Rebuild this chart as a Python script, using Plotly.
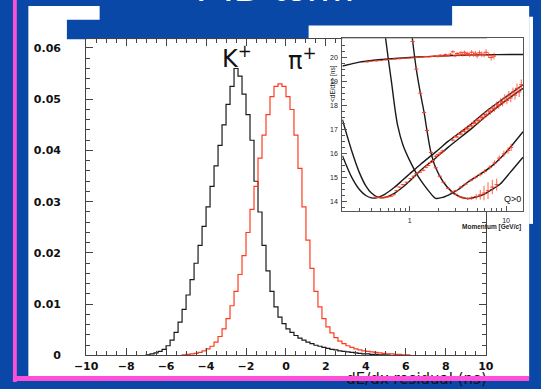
import math
import numpy as np
import plotly.graph_objects as go

W, H = 541, 389

BLUE = "#0a48a8"
PINK = "#ff4fd8"
RED = "#ff3b1f"
BLACK = "#1a1a1a"

# ---------------- main histograms: dE/dx residual (ns), 0.2 ns bins ----------------
bin_centers = np.round(np.arange(-9.9, 10.0, 0.2), 1)

kaon_first_center = -6.9
kaon_frac = [
    0.0001, 0.0003, 0.0005, 0.0008, 0.0012, 0.0019, 0.0030, 0.0045, 0.0065,
    0.0090, 0.0118, 0.0148, 0.0180, 0.0215, 0.0252, 0.0290, 0.0330, 0.0370, 0.0410,
    0.0450, 0.0490, 0.0525, 0.0560, 0.0545, 0.0510, 0.0470, 0.0420, 0.0340, 0.0280,
    0.0215, 0.0165, 0.0125, 0.0095, 0.0075, 0.0062, 0.0052, 0.0045, 0.0039, 0.0034,
    0.0030, 0.0026, 0.0023, 0.0020, 0.0018, 0.0016, 0.0014, 0.0012, 0.0011, 0.0009,
    0.0008, 0.0007, 0.0006, 0.0005, 0.0004, 0.0003, 0.0003, 0.0002, 0.0002, 0.0001,
    0.0001, 0.0001,
]

pion_first_center = -5.1
pion_frac = [
    0.0001, 0.0002, 0.0003, 0.0004, 0.0006, 0.0009, 0.0013, 0.0018, 0.0026, 0.0037,
    0.0052, 0.0072, 0.0097, 0.0125, 0.0158, 0.0195, 0.0240, 0.0285, 0.0330, 0.0385,
    0.0430, 0.0470, 0.0505, 0.0525, 0.0530, 0.0525, 0.0505, 0.0480, 0.0430, 0.0365,
    0.0290, 0.0225, 0.0170, 0.0125, 0.0095, 0.0072, 0.0056, 0.0044, 0.0035, 0.0028,
    0.0023, 0.0019, 0.0016, 0.0013, 0.0011, 0.0009, 0.0008, 0.0007, 0.0006, 0.0005,
    0.0004, 0.0003, 0.0003, 0.0002, 0.0002, 0.0001, 0.0001,
]

x_ticks_main = [-10, -8, -6, -4, -2, 0, 2, 4, 6, 8, 10]
y_ticks_main = [0, 0.01, 0.02, 0.03, 0.04, 0.05, 0.06]
y_tick_text_main = ["0", "0.01", "0.02", "0.03", "0.04", "0.05", "0.06"]

# ---------------- inset: <dE/dx> vs momentum, Q>0 ----------------
# expected-response curves (momentum GeV/c, <dE/dx> ns)
e_curve_p = [0.2, 0.25, 0.3, 0.4, 0.5, 0.7, 1.0, 1.5, 2.0, 3.0, 5.0, 8.0, 15.0]
e_curve_y = [19.63, 19.72, 19.79, 19.86, 19.9, 19.94, 19.98, 20.02, 20.04, 20.07, 20.09, 20.1, 20.11]

mu_curve_p = [0.2, 0.25, 0.3, 0.35, 0.4, 0.45, 0.55, 0.7, 0.85, 1.0, 1.3, 1.85, 2.5, 4.0, 6.0, 10.0, 15.0]
mu_curve_y = [15.9, 15.0, 14.5, 14.25, 14.15, 14.15, 14.3, 14.6, 14.9, 15.15, 15.55, 16.05, 16.5, 17.1, 17.7, 18.35, 18.85]

pi_curve_p = [0.2, 0.25, 0.3, 0.35, 0.4, 0.47, 0.55, 0.7, 0.85, 1.0, 1.3, 1.85, 2.5, 4.47, 6.0, 10.0, 15.0]
pi_curve_y = [17.4, 16.1, 15.2, 14.65, 14.35, 14.17, 14.17, 14.35, 14.6, 14.85, 15.3, 15.8, 16.25, 17.06, 17.5, 18.2, 18.7]

k_curve_p = [0.54, 0.6, 0.65, 0.7, 0.75, 0.85, 1.0, 1.2, 1.4, 1.6, 1.86, 2.2, 2.7, 3.2, 4.0, 5.0, 7.0, 10.0, 15.0]
k_curve_y = [21.3, 19.9, 18.9, 17.9, 17.15, 16.35, 15.7, 15.1, 14.7, 14.4, 14.13, 14.17, 14.33, 14.5, 14.8, 15.05, 15.45, 16.05, 16.9]

p_curve_p = [1.03, 1.07, 1.17, 1.29, 1.41, 1.51, 1.66, 1.86, 2.24, 2.75, 3.3, 3.98, 5.0, 5.9, 7.0, 8.7, 11.0, 15.0]
p_curve_y = [21.3, 20.7, 19.5, 18.5, 17.7, 16.95, 16.04, 15.4, 14.8, 14.4, 14.2, 14.12, 14.2, 14.3, 14.48, 14.73, 15.2, 15.84]

# measured points (momentum, <dE/dx>, error)
e_pts_p = [0.36, 0.4, 0.45, 0.5, 0.56, 0.62, 0.7, 0.78, 0.87, 0.97, 1.08, 1.2, 1.33, 1.45, 1.58, 1.7,
           1.82, 1.95, 2.08, 2.2, 2.35, 2.5, 2.65, 2.8, 2.95, 3.1, 3.25, 3.4, 3.55, 3.7, 3.85, 4.0,
           4.2, 4.4, 4.6, 4.8, 5.0, 5.3, 5.6, 5.9, 6.2, 6.6, 7.0, 7.5]
e_pts_y = [19.8, 19.83, 19.84, 19.86, 19.88, 19.9, 19.92, 19.93, 19.95, 19.96, 19.97, 19.98, 20.0, 20.02,
           20.01, 20.03, 20.05, 20.02, 20.08, 20.04, 20.1, 20.06, 20.12, 20.22, 20.05, 20.15, 20.08, 20.18,
           20.1, 20.2, 20.12, 20.14, 20.08, 20.2, 20.1, 20.16, 20.05, 20.18, 20.12, 20.1, 20.2, 20.08,
           19.98, 20.04]
e_pts_err = [0.03, 0.02, 0.02, 0.02, 0.02, 0.02, 0.02, 0.02, 0.02, 0.02, 0.02, 0.02, 0.03, 0.03, 0.03, 0.03,
             0.03, 0.04, 0.04, 0.04, 0.05, 0.05, 0.05, 0.06, 0.06, 0.06, 0.06, 0.07, 0.07, 0.07, 0.08, 0.08,
             0.08, 0.09, 0.09, 0.1, 0.1, 0.1, 0.11, 0.11, 0.12, 0.12, 0.13, 0.14]

pi_pts_p = [0.44, 0.47, 0.5, 0.53, 0.57, 0.6, 0.64, 0.68, 0.73, 0.78, 0.85, 0.93, 1.02, 1.1, 1.17, 1.28,
            1.38, 1.47, 1.55, 1.65, 1.74, 1.86, 1.97, 2.09, 2.2,
            2.8, 2.95, 3.1, 3.25, 3.4, 3.55, 3.7, 3.85, 4.0, 4.2, 4.4, 4.6, 4.8, 5.0, 5.25, 5.5, 5.75,
            6.0, 6.3, 6.6, 6.9, 7.2, 7.6, 8.0, 8.4, 8.8, 9.2, 9.7, 10.2, 10.7, 11.2, 11.8, 12.4, 13.0,
            13.7, 14.4]
pi_pts_y = [14.18, 14.16, 14.17, 14.15, 14.18, 14.2, 14.22, 14.28, 14.45, 14.6, 14.7, 14.8, 14.95, 15.05,
            15.15, 15.22, 15.3, 15.42, 15.5, 15.62, 15.7, 15.88, 15.95, 16.02, 16.1,
            16.55, 16.7, 16.68, 16.82, 16.8, 16.93, 16.92, 17.04, 17.02, 17.15, 17.14, 17.28, 17.25,
            17.38, 17.36, 17.5, 17.48, 17.62, 17.6, 17.76, 17.72, 17.88, 17.85, 18.02, 17.98, 18.15,
            18.1, 18.3, 18.2, 18.42, 18.3, 18.55, 18.42, 18.7, 18.55, 18.85]
pi_pts_err = [0.02, 0.02, 0.02, 0.02, 0.02, 0.02, 0.02, 0.03, 0.03, 0.03, 0.03, 0.03, 0.03, 0.03, 0.03,
              0.03, 0.04, 0.04, 0.04, 0.04, 0.04, 0.05, 0.05, 0.05, 0.05,
              0.05, 0.05, 0.05, 0.05, 0.06, 0.06, 0.06, 0.06, 0.07, 0.07, 0.07, 0.08, 0.08, 0.08, 0.09,
              0.09, 0.1, 0.1, 0.1, 0.11, 0.11, 0.12, 0.12, 0.13, 0.13, 0.14, 0.15, 0.15, 0.16, 0.17,
              0.18, 0.18, 0.19, 0.2, 0.21, 0.22]

k_pts_p = [3.0, 3.4, 3.8, 4.3, 4.8, 5.4, 6.0, 6.8, 7.6, 8.5, 9.5, 10.5, 11.3]
k_pts_y = [14.45, 14.6, 14.72, 14.88, 15.0, 15.12, 15.25, 15.42, 15.6, 15.8, 15.98, 16.12, 16.25]
k_pts_err = [0.04, 0.05, 0.05, 0.06, 0.07, 0.08, 0.09, 0.1, 0.11, 0.12, 0.13, 0.14, 0.15]

p_pts_p = [1.07, 1.17, 1.29, 1.41, 1.51, 1.66, 1.86, 2.05, 2.24, 2.5, 2.75, 3.0, 3.3, 3.6, 3.98, 4.4,
           4.9, 5.4, 5.9, 6.5, 7.2, 8.0]
p_pts_y = [20.65, 19.5, 18.5, 17.7, 16.95, 16.04, 15.4, 15.05, 14.8, 14.55, 14.4, 14.3, 14.2, 14.15,
           14.12, 14.14, 14.2, 14.28, 14.35, 14.45, 14.6, 14.7]
p_pts_err = [0.05, 0.05, 0.05, 0.05, 0.05, 0.05, 0.04, 0.04, 0.04, 0.04, 0.04, 0.04, 0.05, 0.05,
             0.06, 0.08, 0.12, 0.2, 0.3, 0.35, 0.3, 0.25]


def full_hist(first_center, vals):
    out = np.zeros(len(bin_centers))
    i0 = int(round((first_center - bin_centers[0]) / 0.2))
    out[i0:i0 + len(vals)] = vals
    return out


def step_xy(values):
    # outline from the left edge to the right edge of the binning
    xs = np.concatenate([[-10.0], bin_centers, [10.0]])
    ys = np.concatenate([[values[0]], values, [values[-1]]])
    return xs, ys


def px(x):
    return x / W


def py(y):
    return 1 - y / H


fig = go.Figure()

# page-level axis caption on a full-page subplot measured in pixels
fig.add_trace(go.Scatter(x=[493], y=[380], mode="text", text=["dE/dx residual (ns)"],
                         textposition="bottom left",
                         textfont=dict(family="DejaVu Sans", size=15, color="#111"),
                         cliponaxis=False, xaxis="x", yaxis="y"))

kx, ky = step_xy(full_hist(kaon_first_center, kaon_frac))
pix, piy = step_xy(full_hist(pion_first_center, pion_frac))
fig.add_trace(go.Scatter(x=kx, y=ky, mode="lines", line=dict(shape="hvh", color=BLACK, width=1.2),
                         xaxis="x2", yaxis="y2"))
fig.add_trace(go.Scatter(x=pix, y=piy, mode="lines", line=dict(shape="hvh", color=RED, width=1.2),
                         xaxis="x2", yaxis="y2"))

# inset curves
for cp, cy in [(e_curve_p, e_curve_y), (mu_curve_p, mu_curve_y), (pi_curve_p, pi_curve_y),
               (k_curve_p, k_curve_y), (p_curve_p, p_curve_y)]:
    fig.add_trace(go.Scatter(x=cp, y=cy, mode="lines",
                             line=dict(color=BLACK, width=1.4, shape="spline", smoothing=0.8),
                             xaxis="x3", yaxis="y3"))

# inset measurements
for pp, yy, ee in [(e_pts_p, e_pts_y, e_pts_err), (pi_pts_p, pi_pts_y, pi_pts_err),
                   (k_pts_p, k_pts_y, k_pts_err), (p_pts_p, p_pts_y, p_pts_err)]:
    fig.add_trace(go.Scatter(x=pp, y=yy, mode="markers",
                             marker=dict(symbol="line-ew", size=3, color=RED,
                                         line=dict(color=RED, width=1)),
                             error_y=dict(type="data", array=ee, color=RED, thickness=0.8, width=0),
                             xaxis="x3", yaxis="y3"))

shapes = []


def rect(x0, y0, x1, y1, color, layer="below"):
    shapes.append(dict(type="rect", xref="paper", yref="paper", x0=px(x0), x1=px(x1),
                       y0=py(y1), y1=py(y0), fillcolor=color, line=dict(width=0), layer=layer))


rect(0, 0, 541, 389, BLUE)
rect(17, 6, 537, 384, "white")
rect(537, 17, 541, 228, "white")
rect(91, 0, 457, 26, BLUE)
rect(57, 20, 308, 40, BLUE)
rect(1, 0, 5, 389, PINK, layer="above")
rect(1, 383, 537, 388, PINK, layer="above")

tick_font = dict(family="DejaVu Sans", size=11, color="#111", weight="bold")
inset_font = dict(family="Liberation Sans", size=7, color="#222")

fig.update_layout(
    width=W, height=H, margin=dict(l=0, r=0, t=0, b=0),
    paper_bgcolor=BLUE, plot_bgcolor="white", showlegend=False,
    shapes=shapes,
    xaxis=dict(domain=[0, 1], range=[0, W], visible=False, anchor="y"),
    yaxis=dict(domain=[0, 1], range=[H, 0], visible=False, anchor="x"),
    xaxis2=dict(domain=[px(77), px(492)], range=[-10, 10], anchor="y2",
                showgrid=False, zeroline=False, showline=True, linecolor="#444", linewidth=1,
                mirror="ticks", ticks="inside", ticklen=7, tickcolor="#444",
                tickvals=x_ticks_main, tickfont=tick_font, ticklabelstandoff=0,
                minor=dict(ticks="inside", ticklen=4, dtick=0.5, tickcolor="#444")),
    yaxis2=dict(domain=[py(362), py(40)], range=[0, 0.0617], anchor="x2",
                showgrid=False, zeroline=False, showline=True, linecolor="#444", linewidth=1,
                mirror="ticks", ticks="inside", ticklen=7, tickcolor="#444",
                tickvals=y_ticks_main, ticktext=y_tick_text_main, tickfont=tick_font,
                ticklabelstandoff=22,
                minor=dict(ticks="inside", ticklen=4, dtick=0.002, tickcolor="#444")),
    xaxis3=dict(domain=[px(343), px(531)], type="log", range=[-0.7, 1.18], anchor="y3",
                showgrid=False, zeroline=False, showline=True, linecolor="#555", linewidth=1,
                mirror=True, ticks="inside", ticklen=5, tickcolor="#555",
                tickvals=[1, 10], ticktext=["1", "10"], tickfont=inset_font, ticklabelstandoff=2,
                minor=dict(ticks="inside", ticklen=3, tickcolor="#555",
                           tickvals=[0.2, 0.3, 0.4, 0.5, 0.6, 0.7, 0.8, 0.9, 2, 3, 4, 5, 6, 7, 8, 9])),
    yaxis3=dict(domain=[py(215), py(39)], range=[13.6, 20.78], anchor="x3",
                showgrid=False, zeroline=False, showline=True, linecolor="#555", linewidth=1,
                mirror=True, ticks="inside", ticklen=5, tickcolor="#555",
                tickvals=[14, 15, 16, 17, 18, 19, 20], tickfont=inset_font, ticklabelstandoff=2,
                minor=dict(ticks="inside", ticklen=3, dtick=0.25, tickcolor="#555")),
    annotations=[
        dict(x=px(273), y=py(-13), xref="paper", yref="paper", text="PID term",
             xanchor="center", yanchor="middle", showarrow=False,
             font=dict(family="Liberation Sans", size=40, color="white")),
        dict(x=-2.45, y=0.0583, xref="x2", yref="y2", text="K<sup>+</sup>", showarrow=False,
             font=dict(family="DejaVu Sans", size=24, color="#111")),
        dict(x=0.85, y=0.0578, xref="x2", yref="y2", text="π<sup>+</sup>", showarrow=False,
             font=dict(family="DejaVu Sans", size=24, color="#111")),
        dict(x=px(334), y=py(64), xref="paper", yref="paper", text="&lt;dE/dx&gt; [ns]",
             textangle=-90, showarrow=False,
             font=dict(family="Liberation Sans", size=6.5, color="#222")),
        dict(x=px(531), y=py(231), xref="paper", yref="paper", text="Momentum [GeV/c]",
             xanchor="right", showarrow=False,
             font=dict(family="Liberation Sans", size=6.5, color="#222", weight="bold")),
        dict(x=math.log10(11.6), y=14.1, xref="x3", yref="y3", text="Q>0", showarrow=False,
             font=dict(family="Liberation Sans", size=9, color="#111")),
    ],
)

fig.write_html("out.html")
